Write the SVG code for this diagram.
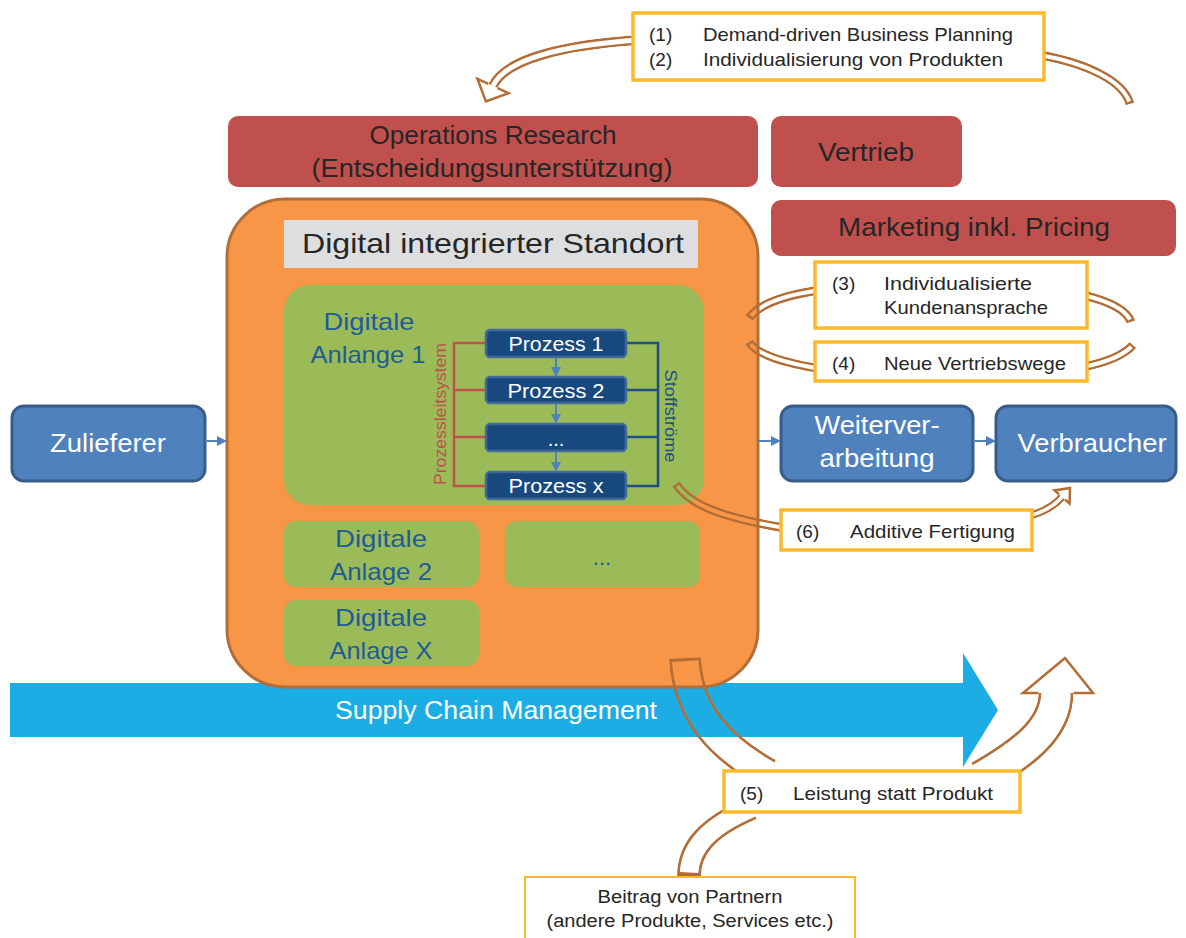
<svg xmlns="http://www.w3.org/2000/svg" xmlns:xlink="http://www.w3.org/1999/xlink" width="1186" height="938" viewBox="0 0 1186 938">
<style>
text{font-family:"Liberation Sans","Noto Sans",sans-serif;}
.red{fill:#C0504D;}
.dk{fill:#262626;}
.wt{fill:#FFFFFF;}
.gr{fill:#9BBB59;}
.gt{fill:#1F5B97;}
.bbox{fill:#4F81BD;stroke:#385D8A;stroke-width:3;}
.proc{fill:#17497E;stroke:#41699A;stroke-width:2.5;}
.yb{fill:#FFFFFF;stroke:#FDB92A;stroke-width:3.5;}
.band{fill:none;stroke:#B36D36;}
.head{fill:none;stroke:#B36D36;stroke-width:2.5;stroke-linejoin:miter;}
.conn{stroke:#4F81BD;stroke-width:2;fill:none;}
</style>
<defs>
<marker id="ah" viewBox="0 0 10 10" refX="9" refY="5" markerWidth="5" markerHeight="5" orient="auto" markerUnits="strokeWidth">
<path d="M0,0 L10,5 L0,10 z" fill="#4F81BD"/>
</marker>
<path id="bA" pathLength="100" fill="none" d="M 640,40 C 560,45 505,60 493,86"/>
<path id="bB" pathLength="100" fill="none" d="M 1040,55 C 1090,64 1124,82 1130,104"/>
<path id="bC" pathLength="100" fill="none" d="M 822,290 C 790,294 760,303 749,318"/>
<path id="bD" pathLength="100" fill="none" d="M 1083,295 C 1108,301 1127,310 1131,322"/>
<path id="bE" pathLength="100" fill="none" d="M 822,369 C 785,363 757,355 749,342"/>
<path id="bF" pathLength="100" fill="none" d="M 1083,367 C 1108,362 1124,355 1133,345"/>
<path id="bG" pathLength="100" fill="none" d="M 676,484 C 690,506 725,518 785,528"/>
<path id="bH" pathLength="100" fill="none" d="M 1028,516 C 1045,512 1055,505 1062,497"/>
<path id="bI" pathLength="100" fill="none" d="M 685,658 C 688,715 722,748 768,774"/>
<path id="bJ" pathLength="100" fill="none" d="M 980,778 C 1020,755 1056,730 1056,693"/>
<path id="bK" pathLength="100" fill="none" d="M 752,808 C 705,828 689,850 689,876"/>
<mask id="mA" maskUnits="userSpaceOnUse" x="0" y="0" width="1186" height="938"><use xlink:href="#bA" stroke="#fff" stroke-width="10"/><use xlink:href="#bA" stroke="#000" stroke-width="5"/></mask>
<mask id="mB" maskUnits="userSpaceOnUse" x="0" y="0" width="1186" height="938"><use xlink:href="#bB" stroke="#fff" stroke-width="9"/><use xlink:href="#bB" stroke="#000" stroke-width="4" stroke-dasharray="97.5 10"/></mask>
<mask id="mC" maskUnits="userSpaceOnUse" x="0" y="0" width="1186" height="938"><use xlink:href="#bC" stroke="#fff" stroke-width="9"/><use xlink:href="#bC" stroke="#000" stroke-width="4" stroke-dasharray="96.5 10"/></mask>
<mask id="mD" maskUnits="userSpaceOnUse" x="0" y="0" width="1186" height="938"><use xlink:href="#bD" stroke="#fff" stroke-width="9"/><use xlink:href="#bD" stroke="#000" stroke-width="4" stroke-dasharray="95.5 10"/></mask>
<mask id="mE" maskUnits="userSpaceOnUse" x="0" y="0" width="1186" height="938"><use xlink:href="#bE" stroke="#fff" stroke-width="9"/><use xlink:href="#bE" stroke="#000" stroke-width="4" stroke-dasharray="96.5 10"/></mask>
<mask id="mF" maskUnits="userSpaceOnUse" x="0" y="0" width="1186" height="938"><use xlink:href="#bF" stroke="#fff" stroke-width="9"/><use xlink:href="#bF" stroke="#000" stroke-width="4" stroke-dasharray="95.5 10"/></mask>
<mask id="mG" maskUnits="userSpaceOnUse" x="0" y="0" width="1186" height="938"><use xlink:href="#bG" stroke="#fff" stroke-width="9"/><use xlink:href="#bG" stroke="#000" stroke-width="4" stroke-dasharray="0 2 200"/></mask>
<mask id="mH" maskUnits="userSpaceOnUse" x="0" y="0" width="1186" height="938"><use xlink:href="#bH" stroke="#fff" stroke-width="8"/><use xlink:href="#bH" stroke="#000" stroke-width="3.5"/></mask>
<mask id="mI" maskUnits="userSpaceOnUse" x="0" y="0" width="1186" height="938"><use xlink:href="#bI" stroke="#fff" stroke-width="32"/><use xlink:href="#bI" stroke="#000" stroke-width="26.5" stroke-dasharray="0 2 200"/></mask>
<mask id="mJ" maskUnits="userSpaceOnUse" x="0" y="0" width="1186" height="938"><use xlink:href="#bJ" stroke="#fff" stroke-width="35"/><use xlink:href="#bJ" stroke="#000" stroke-width="29.5"/></mask>
<mask id="mK" maskUnits="userSpaceOnUse" x="0" y="0" width="1186" height="938"><use xlink:href="#bK" stroke="#fff" stroke-width="24"/><use xlink:href="#bK" stroke="#000" stroke-width="18.5" stroke-dasharray="96.5 10"/></mask>
</defs>
<rect width="1186" height="938" fill="#FFFFFF"/>

<g id="scm">
<polygon points="10,683 963,683 963,653 998,710 963,767 963,737 10,737" fill="#1BADE3"/>
<text x="496" y="719" font-size="26" text-anchor="middle" class="wt" textLength="322" lengthAdjust="spacingAndGlyphs">Supply Chain Management</text>
</g>

<g id="operations-research">
<rect x="228" y="116" width="530" height="71" rx="10" class="red"/>
<text x="493" y="144" font-size="25" text-anchor="middle" class="dk" textLength="247" lengthAdjust="spacingAndGlyphs">Operations Research</text>
<text x="492" y="177" font-size="25" text-anchor="middle" class="dk" textLength="361" lengthAdjust="spacingAndGlyphs">(Entscheidungsunterstützung)</text>
</g>
<g id="vertrieb">
<rect x="771" y="116" width="191" height="71" rx="10" class="red"/>
<text x="866" y="161" font-size="25" text-anchor="middle" class="dk" textLength="96" lengthAdjust="spacingAndGlyphs">Vertrieb</text>
</g>
<g id="marketing">
<rect x="771" y="200" width="405" height="56" rx="10" class="red"/>
<text x="974" y="236" font-size="25" text-anchor="middle" class="dk" textLength="272" lengthAdjust="spacingAndGlyphs">Marketing inkl. Pricing</text>
</g>

<g id="standort">
<rect x="227" y="199" width="531" height="488" rx="58" fill="#F79646" stroke="#B36D36" stroke-width="3"/>
<rect x="284" y="220" width="414" height="48" fill="#DDDEDF"/>
<text x="493" y="253" font-size="28" text-anchor="middle" class="dk" textLength="382" lengthAdjust="spacingAndGlyphs">Digital integrierter Standort</text>
</g>

<g id="anlage1">
<rect x="284" y="285" width="420" height="220" rx="26" class="gr"/>
<text x="369" y="330" font-size="24" text-anchor="middle" class="gt" textLength="91" lengthAdjust="spacingAndGlyphs">Digitale</text>
<text x="368" y="363" font-size="24" text-anchor="middle" class="gt" textLength="115" lengthAdjust="spacingAndGlyphs">Anlange 1</text>
</g>

<g id="prozessleitsystem">
<path d="M486,343 H454 V486 H486 M454,390 H486 M454,437 H486" fill="none" stroke="#C0504D" stroke-width="2.5"/>
<text transform="translate(446,414) rotate(-90)" font-size="16" text-anchor="middle" fill="#C0504D" textLength="142" lengthAdjust="spacingAndGlyphs">Prozessleitsystem</text>
</g>
<g id="stoffstroeme">
<path d="M626,343 H658 V486 H626 M658,390 H626 M658,437 H626" fill="none" stroke="#1F4E86" stroke-width="2.5"/>
<text transform="translate(665,416) rotate(90)" font-size="16" text-anchor="middle" fill="#1F4E86" textLength="93" lengthAdjust="spacingAndGlyphs">Stoffströme</text>
</g>

<g id="prozess1">
<rect x="486" y="330" width="140" height="27" rx="4" class="proc"/>
<text x="556" y="351" font-size="20" text-anchor="middle" class="wt" textLength="95" lengthAdjust="spacingAndGlyphs">Prozess 1</text>
</g>
<g id="prozess2">
<rect x="486" y="377" width="140" height="26" rx="4" class="proc"/>
<text x="556" y="398" font-size="20" text-anchor="middle" class="wt" textLength="97" lengthAdjust="spacingAndGlyphs">Prozess 2</text>
</g>
<g id="prozess-dots">
<rect x="486" y="424" width="140" height="27" rx="4" class="proc"/>
<text x="556" y="446" font-size="20" text-anchor="middle" class="wt">...</text>
</g>
<g id="prozessx">
<rect x="486" y="472" width="140" height="27" rx="4" class="proc"/>
<text x="556" y="493" font-size="20" text-anchor="middle" class="wt" textLength="95" lengthAdjust="spacingAndGlyphs">Prozess x</text>
</g>

<g id="anlage2">
<rect x="284" y="521" width="195" height="66" rx="12" class="gr"/>
<text x="381" y="547" font-size="24" text-anchor="middle" class="gt" textLength="92" lengthAdjust="spacingAndGlyphs">Digitale</text>
<text x="381" y="580" font-size="24" text-anchor="middle" class="gt" textLength="102" lengthAdjust="spacingAndGlyphs">Anlage 2</text>
</g>
<g id="anlage-dots">
<rect x="505" y="521" width="195" height="66" rx="12" class="gr"/>
<text x="602" y="565" font-size="22" text-anchor="middle" class="gt">...</text>
</g>
<g id="anlageX">
<rect x="284" y="600" width="195" height="66" rx="12" class="gr"/>
<text x="381" y="626" font-size="24" text-anchor="middle" class="gt" textLength="92" lengthAdjust="spacingAndGlyphs">Digitale</text>
<text x="381" y="659" font-size="24" text-anchor="middle" class="gt" textLength="103" lengthAdjust="spacingAndGlyphs">Anlage X</text>
</g>

<g id="zulieferer">
<rect x="12" y="406" width="193" height="75" rx="12" class="bbox"/>
<text x="108" y="452" font-size="26" text-anchor="middle" class="wt" textLength="116" lengthAdjust="spacingAndGlyphs">Zulieferer</text>
</g>
<g id="weiterverarbeitung">
<rect x="781" y="406" width="192" height="75" rx="12" class="bbox"/>
<text x="877" y="434" font-size="26" text-anchor="middle" class="wt" textLength="125" lengthAdjust="spacingAndGlyphs">Weiterver-</text>
<text x="877" y="467" font-size="26" text-anchor="middle" class="wt" textLength="115" lengthAdjust="spacingAndGlyphs">arbeitung</text>
</g>
<g id="verbraucher">
<rect x="996" y="406" width="180" height="75" rx="12" class="bbox"/>
<text x="1092" y="452" font-size="26" text-anchor="middle" class="wt" textLength="149" lengthAdjust="spacingAndGlyphs">Verbraucher</text>
</g>

<g id="connectors">
<line x1="205" y1="441" x2="226" y2="441" class="conn" marker-end="url(#ah)"/>
<line x1="758" y1="441" x2="780" y2="441" class="conn" marker-end="url(#ah)"/>
<line x1="973" y1="441" x2="995" y2="441" class="conn" marker-end="url(#ah)"/>
<line x1="556" y1="358" x2="556" y2="376" class="conn" marker-end="url(#ah)"/>
<line x1="556" y1="404" x2="556" y2="423" class="conn" marker-end="url(#ah)"/>
<line x1="556" y1="452" x2="556" y2="471" class="conn" marker-end="url(#ah)"/>
<use xlink:href="#bA" class="band" stroke-width="10" mask="url(#mA)"/>
<polyline points="488.4,83.9 477.5,78.9 485.9,101.5 508.5,93.1 497.6,88.1" class="head"/>
<use xlink:href="#bB" class="band" stroke-width="9" mask="url(#mB)"/>
<use xlink:href="#bC" class="band" stroke-width="9" mask="url(#mC)"/>
<use xlink:href="#bD" class="band" stroke-width="9" mask="url(#mD)"/>
<use xlink:href="#bE" class="band" stroke-width="9" mask="url(#mE)"/>
<use xlink:href="#bF" class="band" stroke-width="9" mask="url(#mF)"/>
<use xlink:href="#bG" class="band" stroke-width="9" mask="url(#mG)"/>
<use xlink:href="#bH" class="band" stroke-width="8" mask="url(#mH)"/>
<polyline points="1059,494.4 1054.5,490.4 1070,488 1069.5,503.6 1065,499.6" class="head"/>
<use xlink:href="#bI" class="band" stroke-width="32" mask="url(#mI)"/>
<use xlink:href="#bJ" class="band" stroke-width="35" mask="url(#mJ)"/>
<polyline points="1038.5,693 1023,693 1065,658 1093,693 1073.5,693" class="head"/>
<use xlink:href="#bK" class="band" stroke-width="24" mask="url(#mK)"/>
</g>

<g id="label-1-2">
<rect x="633" y="13" width="411" height="67" class="yb"/>
<text x="649" y="41" font-size="19" class="dk">(1)</text>
<text x="703" y="41" font-size="19" class="dk" textLength="310" lengthAdjust="spacingAndGlyphs">Demand-driven Business Planning</text>
<text x="649" y="66" font-size="19" class="dk">(2)</text>
<text x="703" y="66" font-size="19" class="dk" textLength="300" lengthAdjust="spacingAndGlyphs">Individualisierung von Produkten</text>
</g>
<g id="label-3">
<rect x="815" y="262" width="272" height="66" class="yb"/>
<text x="832" y="290" font-size="19" class="dk">(3)</text>
<text x="884" y="290" font-size="19" class="dk" textLength="148" lengthAdjust="spacingAndGlyphs">Individualisierte</text>
<text x="884" y="314" font-size="19" class="dk" textLength="164" lengthAdjust="spacingAndGlyphs">Kundenansprache</text>
</g>
<g id="label-4">
<rect x="815" y="342" width="272" height="39" class="yb"/>
<text x="832" y="370" font-size="19" class="dk">(4)</text>
<text x="884" y="370" font-size="19" class="dk" textLength="182" lengthAdjust="spacingAndGlyphs">Neue Vertriebswege</text>
</g>
<g id="label-6">
<rect x="781" y="510" width="251" height="40" class="yb"/>
<text x="796" y="538" font-size="19" class="dk">(6)</text>
<text x="850" y="538" font-size="19" class="dk" textLength="165" lengthAdjust="spacingAndGlyphs">Additive Fertigung</text>
</g>
<g id="label-5">
<rect x="724" y="771" width="296" height="41" class="yb"/>
<text x="740" y="800" font-size="19" class="dk">(5)</text>
<text x="793" y="800" font-size="19" class="dk" textLength="200" lengthAdjust="spacingAndGlyphs">Leistung statt Produkt</text>
</g>
<g id="partner">
<rect x="525" y="877" width="330" height="75" fill="#FFFFFF" stroke="#FDB92A" stroke-width="2"/>
<text x="690" y="903" font-size="18" text-anchor="middle" class="dk" textLength="185" lengthAdjust="spacingAndGlyphs">Beitrag von Partnern</text>
<text x="690" y="927" font-size="18" text-anchor="middle" class="dk" textLength="287" lengthAdjust="spacingAndGlyphs">(andere Produkte, Services etc.)</text>
</g>
</svg>
